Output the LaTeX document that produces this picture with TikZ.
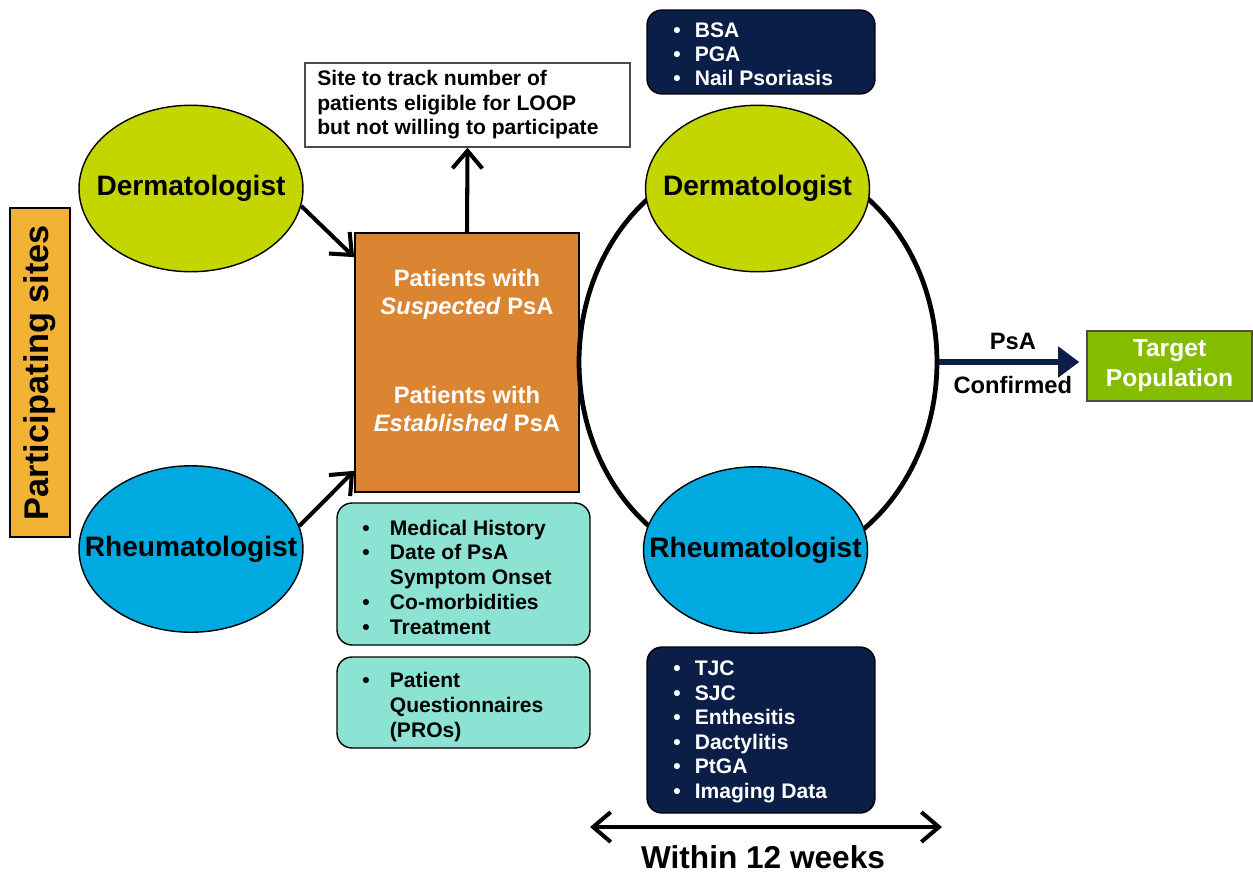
\documentclass[tikz,border=0pt]{standalone}
\usepackage{fontspec}
\setmainfont{Liberation Sans}
\usepackage{xcolor}
\usepackage{tikz}
\usetikzlibrary{arrows.meta}
\usetikzlibrary{positioning}
\usetikzlibrary{shapes.geometric}

\definecolor{sitecol}{RGB}{242,179,52}
\definecolor{dermcol}{RGB}{196,214,0}
\definecolor{rheumcol}{RGB}{0,169,224}
\definecolor{corecol}{RGB}{219,133,51}
\definecolor{tealcol}{RGB}{141,227,211}
\definecolor{navycol}{RGB}{10,30,72}
\definecolor{targetcol}{RGB}{132,189,0}

\tikzset{
  doctor/.style={ellipse, draw=black, line width=0.8pt, inner sep=0pt,
    minimum width=4.48cm, minimum height=3.33cm},
  docname/.style={font=\fontsize{16}{18}\selectfont\bfseries},
  infobox/.style={rectangle, rounded corners=0.3cm, draw=black, line width=0.8pt, inner sep=0pt},
  listtext/.style={anchor=base west, inner sep=0pt, font=\fontsize{12}{14.2}\selectfont\bfseries},
  barb/.tip={Straight Barb[length=10pt,width=17pt]},
  flow/.style={-barb, line width=2.3pt},
}

\begin{document}
\begin{tikzpicture}[x=0.02cm,y=-0.02cm]
  \useasboundingbox (0,0) rectangle (1253,876);

  % participating sites
  \node[draw=black, line width=0.8pt, fill=sitecol, minimum width=1.2cm, minimum height=6.58cm,
        inner sep=0pt] (sites) at (40,372.5) {};
  \node[rotate=90, font=\fontsize{19.5}{22}\selectfont\bfseries] (sitestext) at (sites.center) {Participating sites};

  \node[doctor, fill=dermcol, label={[docname]center:Dermatologist}] (dermL) at (191,188.5) {};
  \node[doctor, fill=rheumcol, label={[docname]center:Rheumatologist}] (rheumL) at (191,549) {};

  % patients box
  \node[draw=black, line width=1pt, fill=corecol, minimum width=4.48cm, minimum height=5.18cm,
        inner sep=0pt] (core) at (467,362.5) {};
  \node[text=white, align=center, font=\fontsize{13.5}{16}\selectfont\bfseries] (suspected) at (467,294)
        {Patients with\\\textit{Suspected} PsA};
  \node[text=white, align=center, font=\fontsize{13.5}{16}\selectfont\bfseries] (established) at (467,409)
        {Patients with\\\textit{Established} PsA};

  \node[draw=black!70, line width=0.8pt, fill=white, minimum width=6.5cm, minimum height=1.68cm,
        inner sep=0pt] (note) at (467.5,105) {};
  \node[anchor=west, align=left, inner sep=0pt, font=\fontsize{12}{13.9}\selectfont\bfseries] (notetext) at (317,105)
        {Site to track number of\\patients eligible for LOOP\\but not willing to participate};

  \draw[flow] (dermL.-9) -- ([yshift=-0.5cm]core.north west);
  \draw[flow] (rheumL.12) -- ([yshift=0.44cm]core.south west);
  \draw[flow] (core.north) -- (note.south);

  % data collected at baseline
  \node[infobox, fill=tealcol, minimum width=5.06cm, minimum height=2.84cm] (history) at (463.5,574) {};
  \node[listtext] (historylist) at (362,535) {\begin{tabular}[t]{@{}l@{\hspace{11.5pt}}l@{}}
      \textbullet & Medical History\\
      \textbullet & Date of PsA\\
                  & Symptom Onset\\
      \textbullet & Co-morbidities\\
      \textbullet & Treatment
    \end{tabular}};
  \node[infobox, fill=tealcol, minimum width=5.06cm, minimum height=1.82cm] (pros) at (463.5,702.5) {};
  \node[listtext] (proslist) at (362,687.5) {\begin{tabular}[t]{@{}l@{\hspace{11.5pt}}l@{}}
      \textbullet & Patient\\
                  & Questionnaires\\
                  & (PROs)
    \end{tabular}};

  % visit loop
  \node[ellipse, draw=black, line width=2.7pt, inner sep=0pt, minimum width=7.16cm,
        minimum height=8.28cm] (loop) at (758,362) {};
  \node[doctor, fill=dermcol, label={[docname]center:Dermatologist}] (dermR) at (757.5,188.5) {};
  \node[doctor, fill=rheumcol, label={[docname]center:Rheumatologist}] (rheumR) at (755.5,550) {};

  \node[infobox, fill=navycol, minimum width=4.56cm, minimum height=1.68cm] (skin) at (761,52) {};
  \node[listtext, text=white, font=\fontsize{12}{13.8}\selectfont\bfseries] (skinlist) at (673,37.5)
    {\begin{tabular}[t]{@{}l@{\hspace{8pt}}l@{}}
      \textbullet & BSA\\
      \textbullet & PGA\\
      \textbullet & Nail Psoriasis
    \end{tabular}};
  \node[infobox, fill=navycol, minimum width=4.56cm, minimum height=3.32cm] (joint) at (761,730) {};
  \node[listtext, text=white, font=\fontsize{12}{14}\selectfont\bfseries] (jointlist) at (673,675.5)
    {\begin{tabular}[t]{@{}l@{\hspace{8pt}}l@{}}
      \textbullet & TJC\\
      \textbullet & SJC\\
      \textbullet & Enthesitis\\
      \textbullet & Dactylitis\\
      \textbullet & PtGA\\
      \textbullet & Imaging Data
    \end{tabular}};

  % outcome
  \node[draw=black!70, line width=0.8pt, fill=targetcol, minimum width=3.3cm, minimum height=1.4cm,
        inner sep=0pt, text=white, align=center, font=\fontsize{14}{17}\selectfont\bfseries] (target) at (1169.5,366)
        {Target\\Population};
  \draw[-{Triangle[length=12pt,width=17pt]}, line width=3.2pt, draw=navycol, fill=navycol, shorten >=4pt]
    (loop.east) -- (loop.east -| target.west)
    node[midway, above=2pt, font=\fontsize{13.5}{16}\selectfont\bfseries] (psa) {PsA}
    node[midway, below=3pt, font=\fontsize{13.5}{16}\selectfont\bfseries] (confirmed) {Confirmed};

  % time window
  \coordinate (wL) at (590,827);
  \coordinate (wR) at (942,827);
  \draw[barb-barb, line width=2.3pt] (wL) -- (wR);
  \node[font=\fontsize{18}{21}\selectfont\bfseries] (weeks) at (763,857) {Within 12 weeks};
\end{tikzpicture}
\end{document}
